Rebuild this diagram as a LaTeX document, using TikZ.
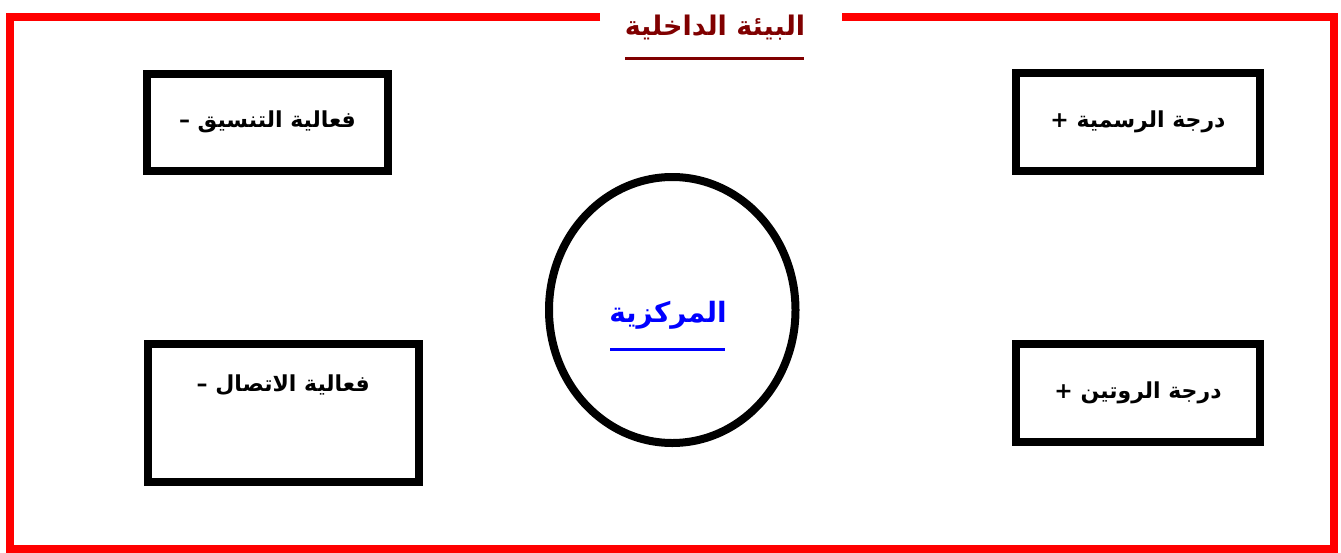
\documentclass[tikz,border=0pt]{standalone}
\usepackage{fontspec}
\newfontfamily\arabicfont[Script=Arabic]{DejaVu Sans}
\TeXXeTstate=1
\usetikzlibrary{shapes.geometric,positioning}
\definecolor{framered}{RGB}{255,0,0}
\definecolor{titlered}{RGB}{128,0,0}
\definecolor{coreblue}{RGB}{0,0,255}

\begin{document}
\begin{tikzpicture}[x=1pt,y=-1pt,
  frame/.style={draw=framered,line width=8pt},
  box/.style={draw,line width=8pt,inner sep=0pt,font=\arabicfont\bfseries\fontsize{22}{26}\selectfont},
  title/.style={text=titlered,inner sep=0pt,font=\arabicfont\bfseries\fontsize{27}{32}\selectfont},
  core/.style={draw,ellipse,line width=8pt,inner sep=0pt},
  corelabel/.style={text=coreblue,inner sep=0pt,font=\arabicfont\bfseries\fontsize{28}{33}\selectfont}]
\useasboundingbox (0,0) rectangle (1341,552);
% frame of the inner environment, open at the top for the title
\draw[frame] (600,17) -| (10,548.5) -| (1334,17) -- (842,17);
\node[title] (env) at (715,28) {\beginR البيئة الداخلية\endR};
\draw[titlered,line width=3pt] (625,58) -- (804,58);
% the four boxes
\node[box,minimum width=241pt,minimum height=97pt] (coord) at (267.5,122) {\beginR فعالية التنسيق –\endR};
\node[box,minimum width=244pt,minimum height=98.5pt] (formal) at (1138,121.75) {\beginR درجة الرسمية +\endR};
\node[box,minimum width=271.5pt,minimum height=138pt,text depth=60pt] (comm) at (283.25,413) {\beginR فعالية الاتصال –\endR};
\node[box,minimum width=244pt,minimum height=97.5pt] (routine) at (1138,392.75) {\beginR درجة الروتين +\endR};
% centralisation in the middle
\node[core,minimum width=246.5pt,minimum height=266pt] (centre) at (672.25,310) {};
\node[corelabel] (centrelabel) at (668,315) {\beginR المركزية\endR};
\draw[coreblue,line width=3pt] (610,349) -- (725,349);
\end{tikzpicture}
\end{document}
